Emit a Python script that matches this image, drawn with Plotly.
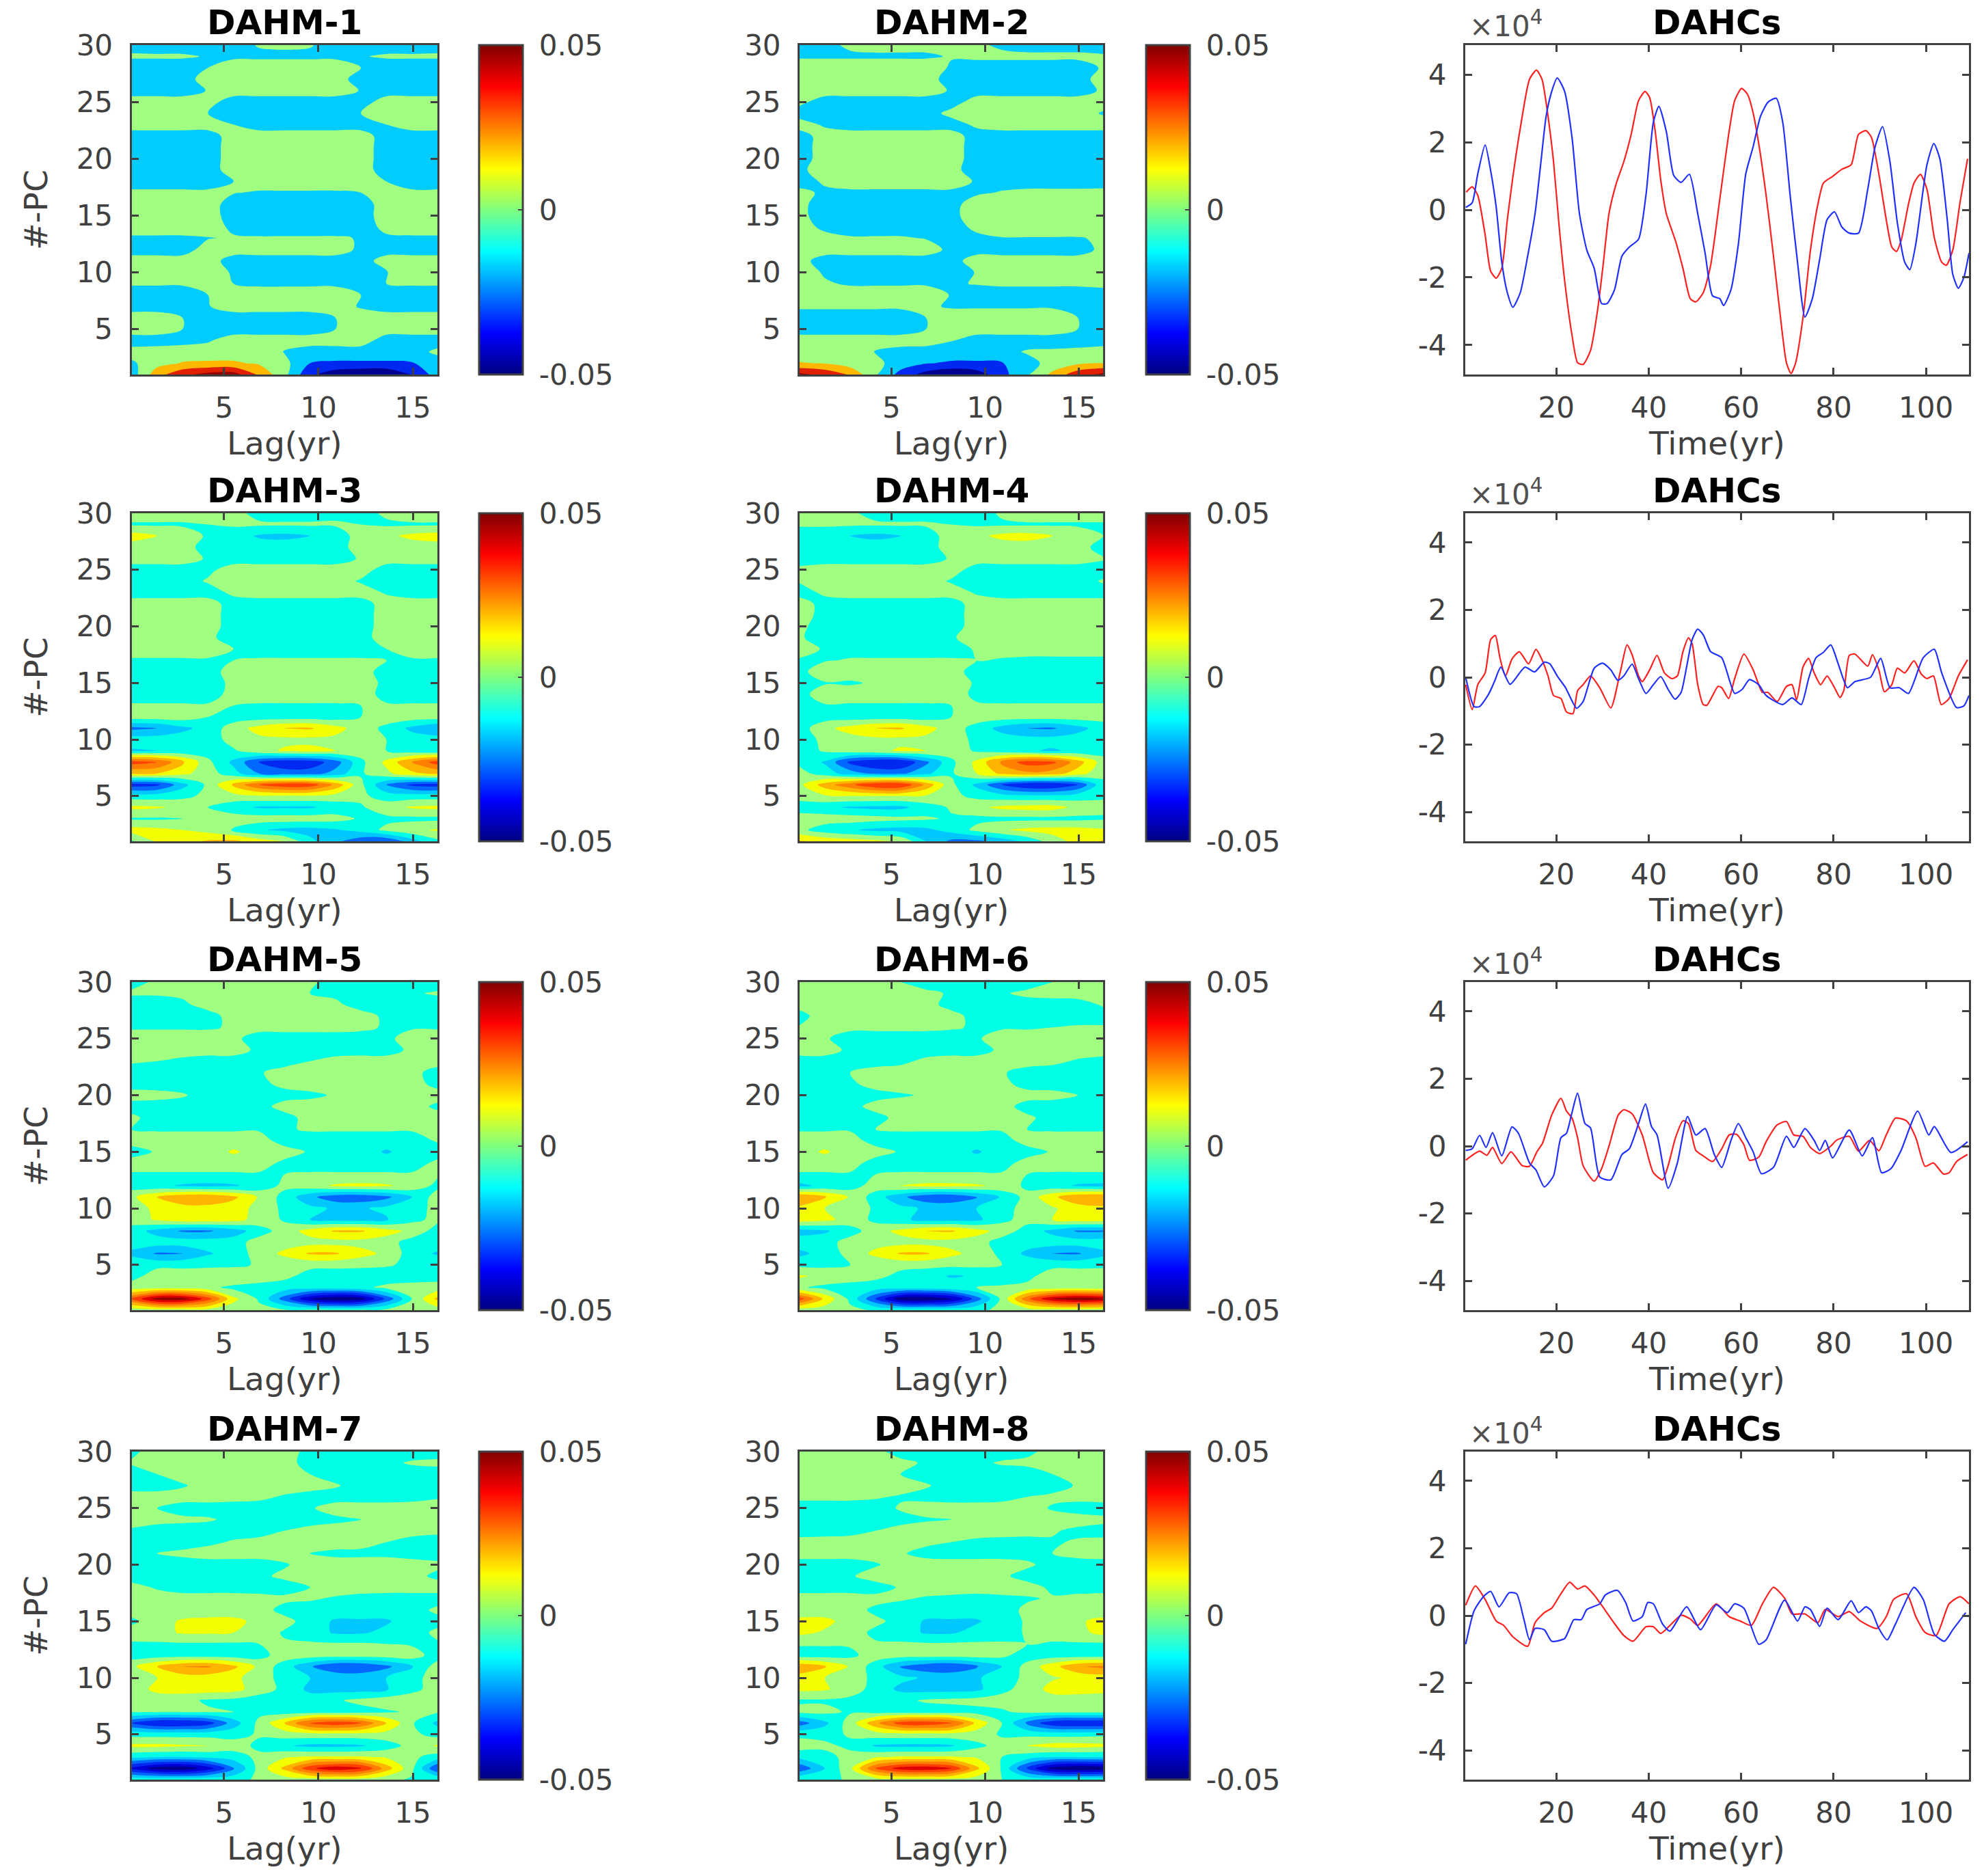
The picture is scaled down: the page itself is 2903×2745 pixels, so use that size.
#!/usr/bin/env python3
# DAHM / DAHC panels
import numpy as np
import plotly.graph_objects as go

# lag columns (yr) and PC rows
LAGS = [0.1, 1.45, 2.8, 4.15, 5.5, 6.85, 8.2, 9.55, 10.9, 12.25, 13.6, 14.95, 16.3]
PCS = list(range(30, 0, -1))

# DAHM maps, thousandths, one line per PC from 30 down to 1
DAHM_1 = [
    [-12,-14,-14,-14,-12,-6,-5,-6,-12,-14,-14,-14,-12],
    [-5,-5,-5,-8,-10,-10,-10,-10,-10,-8,-5,-5,-5],
    [-16,-16,-16,-7,2,2,2,2,2,-7,-16,-16,-16],
    [-16,-16,-16,2,2,2,2,2,2,-16,-16,-16,-16],
    [-16,-16,-16,-6,2,2,2,2,2,-8,-16,-16,-16],
    [2,2,2,0,-16,-16,-16,-16,-16,-16,2,2,2],
    [2,2,2,-7,-16,-16,-16,-16,-16,-7,2,2,2],
    [2,2,2,2,-7,-16,-16,-16,-16,-16,-7,2,2],
    [-16,-16,-16,-16,2,2,2,2,2,2,-16,-16,-16],
    [-16,-16,-16,-16,2,2,2,2,2,2,-16,-16,-16],
    [-16,-16,-16,-16,2,2,2,2,2,2,-16,-16,-16],
    [-16,-16,-16,-16,2,2,2,2,2,2,-16,-16,-16],
    [-16,-16,-16,-16,-7,2,2,2,2,2,-7,-16,-16],
    [-3,-3,-3,-3,-6,-9,-9,-9,-9,-7,-3,-3,-3],
    [2,2,2,2,-16,-16,-16,-16,-16,-16,2,2,2],
    [2,2,2,2,-16,-16,-16,-16,-16,-16,2,2,2],
    [2,2,2,2,-11,-16,-16,-16,-16,-16,-2,2,2],
    [-10,-10,-10,-8,-5,-5,-5,-5,-5,-8,-10,-10,-10],
    [-16,-16,-16,2,2,2,2,2,2,-11,-16,-16,-16],
    [2,2,2,2,-16,-16,-16,-16,-16,-16,2,2,2],
    [2,2,2,2,-9,-16,-16,-16,-16,-16,-8,2,2],
    [-5,-5,-5,-5,-7,-10,-10,-10,-10,-10,-7,-5,-5],
    [-16,-16,-16,-7,2,2,2,2,2,-7,-16,-16,-16],
    [-16,-16,-16,-8,2,2,2,2,2,-9,-16,-16,-16],
    [2,2,-7,-16,-16,-16,-16,-16,-7,2,2,2,2],
    [2,2,-7,-16,-16,-16,-16,-16,-7,2,2,2,2],
    [-16,-16,-13,-9,2,2,2,2,2,2,-16,-16,-16],
    [0,2,2,2,2,2,-8,-16,-16,-16,-16,-15,-3],
    [-10,4,11,12,12,8,-2,-24,-26,-26,-26,-25,-16],
    [-16,20,40,50,52,24,-2,-38,-52,-57,-57,-40,-16],
]
DAHM_2 = [
    [-14,-10,-5,-3,-3,-3,-3,-4,-10,-14,-14,-14,-14],
    [-9,-9,-9,-9,-9,-9,-6,-3,-3,-3,-3,-3,-5],
    [2,2,2,2,2,2,-9,-16,-16,-16,-16,-16,-5],
    [2,2,2,2,2,2,-16,-16,-16,-16,-16,-16,2],
    [2,2,2,2,2,2,-9,-16,-16,-16,-16,-16,-4],
    [-2,-16,-16,-16,-16,-16,-16,2,2,2,2,2,2],
    [-16,-16,-16,-16,-16,-16,-1,2,2,2,2,2,-9],
    [2,-10,-16,-16,-16,-16,-16,-3,2,2,2,2,2],
    [-16,2,2,2,2,2,2,-16,-16,-16,-16,-16,-16],
    [-16,2,2,2,2,2,2,-16,-16,-16,-16,-16,-16],
    [-16,2,2,2,2,2,2,-16,-16,-16,-16,-16,-16],
    [-11,2,2,2,2,2,-1,-16,-16,-16,-16,-16,-16],
    [-16,-4,2,2,2,2,2,-9,-16,-16,-16,-16,-16],
    [-1,-11,-11,-11,-11,-11,-11,-11,-5,-2,-2,-2,-1],
    [-2,-16,-16,-16,-16,-16,-16,6,2,2,2,2,2],
    [-2,-16,-16,-16,-16,-16,-14,6,2,2,2,2,2],
    [2,-12,-16,-16,-16,-16,-16,-2,2,2,2,2,2],
    [2,0,-5,-5,-5,-8,-16,-12,-8,-8,-8,-8,-5],
    [2,2,2,2,2,2,-12,-16,-16,-16,-16,-16,-2],
    [0,-16,-16,-16,-16,-16,-16,4,2,2,2,2,2],
    [2,-9,-16,-16,-16,-16,-16,-6,2,2,2,2,2],
    [-3,-5,-9,-9,-9,-9,-9,-6,-4,-4,-4,-4,-4],
    [2,2,2,2,2,2,-8,-16,-16,-16,-16,-16,-12],
    [-4,-4,-4,-4,-4,-4,-9,-9,-9,-9,-9,-9,-10],
    [-16,-16,-16,-16,-16,-7,2,2,2,2,2,-7,-16],
    [-16,-16,-16,-16,-16,-7,2,2,2,2,2,-7,-16],
    [2,2,2,2,2,2,-6,-16,-16,-16,-16,-16,-16],
    [2,2,2,-8,-14,-16,-16,-16,-14,-5,-4,-2,2],
    [11,9,1,-2,-16,-23,-26,-26,-25,-14,0,7,10],
    [48,40,25,-5,-30,-48,-57,-50,-30,-9,14,38,48],
]
DAHM_3 = [
    [0,0,0,0,-2,-6,-7,-7,-6,-6,-3,0,0],
    [-5,-5,-5,-4,-3,-3,-3,-3,-3,-4,-5,-5,-5],
    [8,4,0,-5,-8,-13,-14,-12,-9,0,2,6,8],
    [0,0,0,-8,-8,-8,-8,-8,-8,0,0,0,0],
    [0,0,0,-5,-8,-8,-8,-8,-8,-3,0,0,0],
    [-8,-8,-8,-6,0,0,0,0,0,0,-8,-8,-8],
    [-8,-8,-8,-3,0,0,0,0,0,-5,-8,-8,-8],
    [-8,-8,-8,-8,-2,0,0,0,0,0,-5,-8,-8],
    [0,0,0,0,-8,-8,-8,-8,-8,-8,0,0,0],
    [0,0,0,0,-8,-8,-8,-8,-8,-8,0,0,0],
    [0,0,0,0,-8,-8,-8,-8,-8,-8,0,0,0],
    [0,0,0,-2,-8,-8,-8,-8,-8,-8,1,0,0],
    [0,0,0,0,-4,-8,-8,-8,-8,-8,-4,0,0],
    [-5,-5,-5,-5,-4,-3,-3,-3,-3,-3,-4,-5,-5],
    [-8,-8,-8,-8,0,0,0,0,0,0,-8,-8,-8],
    [-8,-8,-8,-8,-2,0,0,0,0,0,-6,-8,-8],
    [-8,-8,-8,-8,-1,0,0,0,0,0,-7,-8,-8],
    [-3,-3,-3,-3,-4,-5,-5,-5,-5,-4,-3,-3,-3],
    [0,0,0,-4,-8,-8,-8,-8,-8,-4,0,0,0],
    [-22,-20,-14,-9,0,7,12,13,7,0,-6,-14,-20],
    [-8,-8,-8,-8,-1,2,2,2,2,0,-4,-8,-8],
    [-13,-12,-10,-8,-5,1,5,6,4,0,-4,-8,-11],
    [32,28,14,-2,-14,-28,-34,-33,-24,-6,6,20,32],
    [13,12,6,0,-9,-20,-24,-24,-17,-5,2,10,14],
    [-32,-30,-15,-2,14,28,34,33,18,-2,-20,-30,-32],
    [-8,-8,-6,-2,1,3,3,3,1,-2,-8,-8,-8],
    [6,5,2,-4,-9,-13,-13,-13,-9,-5,1,5,6],
    [-5,-5,-4,-2,0,0,0,0,-1,-5,-6,-6,-6],
    [7,6,4,1,-5,-11,-14,-15,-13,-9,-2,2,5],
    [-5,5,9,13,14,8,4,-10,-18,-26,-28,-16,-6],
]
DAHM_4 = [
    [0,0,-3,-6,-7,-7,-7,-7,-3,0,0,0,0],
    [-3,-3,-3,-3,-3,-3,-4,-5,-5,-5,-5,-5,-5],
    [-8,-8,-12,-14,-12,-8,0,2,6,7,4,0,-4],
    [-8,-8,-8,-8,-8,-8,0,0,0,0,0,0,-8],
    [-8,-8,-8,-8,-8,-8,-3,0,0,0,0,0,-3],
    [-2,0,0,0,0,0,0,-8,-8,-8,-8,-8,-8],
    [-3,0,0,0,0,0,-5,-8,-8,-8,-8,-8,-3],
    [-8,-2,0,0,0,0,0,-5,-8,-8,-8,-8,-8],
    [1,-8,-8,-8,-8,-8,-8,0,0,0,0,0,0],
    [1,-8,-8,-8,-8,-8,-8,0,0,0,0,0,0],
    [-2,-8,-8,-8,-8,-8,-8,0,0,0,0,0,0],
    [-3,-8,-8,-8,-8,-8,-5,0,0,0,0,0,0],
    [0,-5,-8,-8,-8,-8,-8,-3,0,0,0,0,0],
    [-5,-5,-3,-3,-3,-3,-3,-4,-5,-6,-6,-6,-6],
    [-8,4,0,0,0,0,0,-8,-8,-8,-8,-8,-8],
    [-8,-5,-5,-3,0,0,0,-5,-6,-8,-8,-8,-8],
    [-8,2,0,0,0,0,0,-6,-8,-8,-8,-8,-8],
    [-8,-5,-5,-5,-5,-5,-4,-3,-3,-3,-3,-3,-3],
    [-8,-8,-8,-8,-8,-8,-4,0,0,0,0,0,-1],
    [-8,2,7,12,13,7,0,-7,-15,-20,-21,-15,-8],
    [-8,-2,1,2,2,2,0,-6,-8,-9,-9,-8,-8],
    [-8,-3,0,2,5,4,0,-5,-8,-11,-13,-10,-8],
    [-6,-13,-30,-36,-36,-22,-6,6,22,32,30,16,0],
    [-1,-8,-16,-22,-22,-14,-5,4,14,18,16,8,-2],
    [2,16,26,36,36,18,-2,-14,-28,-36,-36,-28,-6],
    [-1,3,4,4,4,3,-2,-6,-9,-10,-10,-8,-5],
    [-8,-10,-13,-14,-14,-8,-3,2,6,7,7,2,-2],
    [0,0,0,-1,-2,-3,-5,-6,-6,-6,-6,-6,-5],
    [-2,-8,-11,-14,-15,-14,-9,-2,3,6,7,7,5],
    [13,10,8,6,3,-12,-22,-22,-17,-10,0,7,13],
]
DAHM_5 = [
    [-6,-3,0,0,0,0,0,-2,-8,-8,-8,-8,-8],
    [-3,-3,-2,-1,0,0,-3,-4,-6,-6,-6,-5,-3],
    [-8,-8,-6,0,0,0,0,0,-2,-8,-8,-8,-8],
    [-8,-8,-8,-8,0,0,0,0,0,0,-6,-8,-8],
    [-5,-5,-5,-5,-3,-1,-1,-1,-1,-2,-5,-5,-5],
    [0,0,0,0,-2,-8,-8,-8,-8,-8,-6,0,0],
    [0,0,0,0,0,-6,-8,-8,-8,-8,-8,-2,0],
    [-3,-4,-6,-8,-8,-8,-8,-4,-1,0,0,0,0],
    [-8,-8,-8,-8,-8,-5,0,0,0,0,0,-1,-8],
    [-8,-8,-8,-8,-8,-7,-1,0,0,0,0,0,-7],
    [0,-1,-3,-8,-8,-8,-8,-6,-3,0,0,0,0],
    [-8,-8,-8,-8,-8,-8,0,0,0,0,0,0,-6],
    [-2,-8,-8,-8,-8,-8,-8,0,0,0,0,0,0],
    [-4,-5,-5,-5,-5,-5,-5,-3,-3,-3,-3,-3,-3],
    [0,0,0,0,0,0,-8,-8,-8,-8,-8,-8,-3],
    [-8,-3,0,0,5,1,0,-5,-8,-8,-13,-8,-8],
    [0,0,0,0,0,0,-6,-8,-8,-8,-8,-8,-2],
    [-5,-5,-5,-5,-5,-5,-4,-3,-3,-3,-3,-3,-3],
    [-8,-10,-13,-14,-13,-9,-2,1,5,6,5,1,-6],
    [2,12,18,19,14,3,-7,-18,-25,-26,-22,-12,0],
    [0,6,9,9,7,2,-6,-10,-13,-13,-10,-7,-2],
    [0,5,9,9,7,1,-5,-12,-15,-15,-13,-6,-2],
    [-8,-15,-21,-21,-16,-8,0,7,13,13,7,2,-8],
    [-8,-8,-8,-8,-8,0,0,1,1,1,0,-8,-8],
    [-14,-21,-20,-13,-8,-1,6,13,13,7,2,-8,-13],
    [-6,-6,-6,-6,-6,-3,-2,-2,-2,-2,-3,-6,-6],
    [-7,0,0,2,4,2,-2,-7,-8,-9,-9,-8,-8],
    [0,0,0,-2,-6,-8,-8,-8,-8,-6,-2,-1,0],
    [28,48,48,32,6,-5,-24,-44,-52,-48,-26,-4,14],
    [-1,1,1,1,0,-2,-3,-3,-3,-3,-2,-1,0],
]
DAHM_6 = [
    [0,0,0,0,-4,-8,-8,-8,-8,-8,-4,0,0],
    [0,0,-1,-2,-1,-2,-5,-7,-5,-2,-1,0,0],
    [0,0,0,0,0,0,-8,-8,-8,-8,-8,-8,-3],
    [-8,2,0,0,0,0,0,-8,-8,-8,-8,-8,-8],
    [-3,-2,-2,-2,-2,-2,-3,-5,-5,-5,-4,-3,-3],
    [0,-3,-8,-8,-8,-8,-8,-5,0,0,0,0,0],
    [0,0,-6,-8,-8,-8,-8,-8,-2,0,0,0,0],
    [-8,-8,-8,-8,-6,-2,0,0,0,0,-2,-5,-7],
    [-8,-8,-4,0,0,0,0,0,-3,-8,-8,-8,-8],
    [-8,-8,-6,0,0,0,0,0,-1,-8,-8,-8,-8],
    [-8,-8,-8,-8,-5,-3,0,0,0,0,-1,-4,-8],
    [-8,-8,-8,0,0,0,0,0,0,-8,-8,-8,-8],
    [-8,-8,-8,-8,0,0,0,0,0,-2,-8,-8,-8],
    [-5,-5,-5,-4,-3,-3,-3,-3,-3,-4,-5,-5,-5],
    [0,0,0,-8,-8,-8,-8,-8,-8,0,0,0,0],
    [1,5,0,0,-5,-8,-8,-13,-8,-8,-3,0,0],
    [0,0,0,-8,-8,-8,-8,-8,-8,0,0,0,0],
    [-5,-5,-5,-4,-3,-3,-3,-3,-3,-4,-5,-5,-5],
    [-14,-10,-8,0,4,6,6,5,2,-6,-9,-13,-14],
    [20,13,3,-8,-18,-26,-27,-21,-11,-1,10,19,20],
    [10,4,0,-5,-10,-13,-13,-12,-7,-1,3,8,10],
    [8,6,1,-6,-10,-15,-15,-14,-6,-1,4,8,8],
    [-15,-13,-8,1,6,12,13,7,1,-8,-14,-21,-21],
    [-8,-8,0,1,1,1,1,0,-8,-8,-8,-8,-8],
    [-14,-9,-1,6,13,13,6,1,-6,-14,-20,-21,-14],
    [-6,-6,-4,-2,-2,-2,-2,-2,-4,-6,-6,-6,-6],
    [5,2,1,-2,-6,-8,-13,-11,-8,-6,0,0,1],
    [-3,-6,-8,-8,-8,-8,-6,-4,-3,-2,-1,-1,-1],
    [32,10,-6,-28,-50,-52,-46,-24,-2,26,44,50,46],
    [-1,0,-2,-5,-5,-5,-5,-5,-3,0,0,0,0],
]
DAHM_7 = [
    [-6,0,0,0,0,0,-1,-6,-8,-8,-8,-8,-8],
    [-3,-1,0,0,-2,-2,-3,-5,-7,-7,-6,-3,-2],
    [-8,-4,0,0,0,0,0,-4,-8,-8,-8,-8,-8],
    [-8,-8,-5,0,0,0,0,0,-3,-8,-8,-8,-8],
    [0,0,0,0,-1,-2,-5,-8,-8,-8,-8,-7,-5],
    [0,-4,-8,-8,-8,-8,-8,-5,0,0,0,0,0],
    [-1,-1,-2,-3,-6,-8,-8,-8,-6,-4,-1,0,0],
    [-5,-8,-8,-8,-8,-8,-4,-1,0,0,0,0,-2],
    [-8,-8,-8,-6,-3,-1,0,0,0,-1,-4,-8,-8],
    [-8,-4,-2,0,0,0,0,-4,-6,-6,-6,-8,-8],
    [-8,-8,-8,-8,-8,-8,-5,0,0,0,0,0,-2],
    [-8,-8,-8,-8,-8,-6,-2,0,0,0,0,-1,-6],
    [-1,-5,-8,-8,-8,-8,-8,-4,0,0,0,0,0],
    [0,0,0,0,0,-1,-2,-3,-5,-7,-8,-8,-8],
    [0,0,0,0,0,0,-7,-8,-8,-8,-8,-8,-2],
    [-6,1,5,6,6,2,-1,-8,-13,-13,-13,-8,-7],
    [0,1,5,5,4,1,-5,-8,-13,-13,-10,-8,-2],
    [-5,-5,-5,-5,-5,-4,-3,-3,-3,-3,-4,-5,-5],
    [-8,-8,-8,-8,-8,-7,0,0,0,0,0,0,-8],
    [2,12,20,21,14,2,-8,-19,-28,-28,-22,-13,0],
    [0,4,8,8,6,0,-7,-12,-13,-14,-12,-7,0],
    [0,6,8,8,7,0,-6,-14,-15,-15,-13,-6,-1],
    [0,0,-2,-5,-6,-8,-8,-8,-5,-2,0,0,-1],
    [-3,-3,-3,-3,-4,-6,-8,-8,-8,-7,-5,-3,-3],
    [-28,-36,-36,-32,-16,-2,12,30,34,28,12,-3,-14],
    [-7,-7,-7,-7,-7,-3,0,1,1,1,1,-2,-7],
    [6,6,5,4,0,-6,-11,-14,-14,-13,-8,-1,5],
    [-10,-12,-12,-10,-8,-2,3,5,5,5,3,-2,-8],
    [-38,-48,-50,-40,-22,-1,14,34,42,38,16,-2,-28],
    [-6,-6,-6,-6,-6,-3,0,0,1,0,-2,-5,-5],
]
DAHM_8 = [
    [0,0,0,-2,-7,-8,-8,-8,-8,-6,-1,0,0],
    [0,-2,-2,-1,-2,-5,-7,-6,-3,-2,-1,-1,0],
    [0,0,0,0,-4,-8,-8,-8,-8,-8,-4,0,0],
    [0,0,0,0,0,-3,-8,-8,-8,-8,-8,-3,0],
    [-2,-2,-2,-3,-5,-7,-8,-8,-7,-4,-2,-1,0],
    [-8,-8,-8,-8,-3,0,0,0,0,0,-5,-8,-8],
    [-8,-8,-8,-8,-7,-5,-4,0,0,0,0,0,-2],
    [-8,-8,-7,-4,-1,0,0,0,0,-1,-3,-6,-7],
    [-1,0,0,0,0,-2,-4,-6,-7,-7,-5,-3,-2],
    [0,0,0,0,-3,-7,-8,-8,-8,-8,-4,-1,0],
    [-8,-8,-8,-5,0,0,0,0,0,-2,-8,-8,-8],
    [-8,-8,-5,0,0,0,0,0,-2,-8,-8,-8,-8],
    [-8,-8,-8,-8,-3,0,0,0,0,0,-6,-8,-8],
    [0,0,0,-1,-3,-5,-6,-7,-6,-5,-3,-1,0],
    [0,0,0,-6,-8,-8,-8,-8,-8,-2,0,0,0],
    [6,6,1,-2,-7,-13,-13,-13,-8,-3,0,3,6],
    [6,3,0,-6,-8,-13,-13,-9,-8,-3,0,2,6],
    [-3,-3,-3,-3,-3,-3,-3,-3,-3,-4,-5,-5,-5],
    [-8,-8,-6,0,0,0,0,0,-2,-8,-8,-8,-8],
    [19,13,3,-8,-21,-26,-28,-21,-12,-1,9,19,22],
    [8,4,0,-6,-10,-13,-13,-13,-8,-2,3,6,8],
    [6,5,0,-7,-14,-15,-15,-14,-6,-1,7,8,8],
    [-5,-5,-6,-7,-6,-3,-2,-1,-1,0,0,-1,-3],
    [-2,-2,-5,-7,-8,-8,-8,-7,-5,-2,-2,-2,-2],
    [-24,-14,0,18,32,34,30,10,-4,-22,-34,-36,-36],
    [-6,-7,-3,0,1,1,1,0,-5,-6,-7,-7,-6],
    [0,-2,-6,-13,-14,-14,-13,-6,-1,4,7,7,6],
    [-10,-7,-1,3,5,5,5,3,-4,-8,-12,-12,-12],
    [-26,-12,2,28,40,42,36,14,-5,-30,-48,-52,-50],
    [-5,-6,-3,0,1,1,1,0,-4,-6,-6,-6,-6],
]

# DAHC time series, x 10^4
T1_RED = [0.5,1.8,3,4.6,5.8,7,8.2,9.4,10.6,12.2,14.2,15.7,16.9,18.2,19.4,20.6,21.8,23.4,24.6,25.8,27.4,29,30.2,31.4,33,34.6,36.2,37.8,39.2,40.2,41.4,42.6,43.8,45.8,47.4,49,50.2,51.8,53.4,55.4,57.4,58.6,60.1,61.4,62.6,63.8,65.4,67,68.2,69.8,70.8,71.8,73.4,75,76.6,77.8,79.8,81.8,83.8,85.4,87,88.2,89.8,91.4,92.6,93.6,94.6,96.2,97.4,98.8,100.2,101.8,103.4,104.4,105.8,107.4,109]
V1_RED = [.52,.68,.43,-.74,-1.82,-2.02,-1.73,-.29,.97,2.41,3.86,4.13,3.86,2.77,1.42,-.47,-2.09,-3.71,-4.52,-4.57,-4.16,-2.9,-1.55,-.11,.79,1.42,2.23,3.23,3.5,3.32,2.32,.88,-.11,-.92,-1.73,-2.63,-2.72,-2.45,-1.64,.34,2.32,3.23,3.59,3.41,2.86,1.96,.43,-1.37,-2.81,-4.52,-4.84,-4.52,-3.17,-1.19,.16,.79,.99,1.2,1.33,2.23,2.34,2.14,1.06,-.29,-1.1,-1.23,-.92,.16,.79,1.05,.61,-.83,-1.55,-1.64,-1.19,.25,1.51]
T1_BLUE = [.4,1.8,3,4.6,5.8,7,8.2,9.4,10.6,12.2,13.8,15.4,16.6,17.8,19,20.2,21.8,23.4,25,26.6,28.2,29.8,31,32.6,34.2,35.8,37.8,39.4,41,42.2,43.8,45.4,47,48.8,50.6,52.2,53.8,55.4,56.2,57.8,59.4,61,62.6,64.2,65.8,67.6,69,70.6,72.2,73.8,75.4,77,78.6,80.2,81.8,83.4,85.4,87.4,89,90.6,92.2,93.8,95.4,96.5,97.8,100.2,101.7,103,104.6,105.8,107,108.2,109.3]
V1_BLUE = [.07,.21,1.06,1.92,1.15,.07,-1.55,-2.45,-2.88,-2.45,-1.37,-.11,1.33,2.77,3.5,3.9,3.5,2.14,-.11,-1.19,-1.73,-2.77,-2.77,-2.36,-1.37,-1.1,-.87,.43,2.59,3.06,2.32,1.02,.81,1.05,-.11,-1.28,-2.54,-2.63,-2.83,-2.36,-1.01,1.06,1.87,2.77,3.18,3.3,2.59,.43,-1.55,-3.17,-2.63,-1.46,-.29,-.06,-.51,-.69,-.69,.61,1.87,2.46,1.42,-.38,-1.55,-1.77,-1.01,1.33,1.96,1.51,-.29,-1.91,-2.32,-2,-1.28]

T2_RED = [.4,1.8,3,4.6,5.8,6.8,7.8,9,10.4,12,14,15.6,17,18.2,19.4,21,22.2,23.6,24.6,25.8,27.4,29.4,31.8,33.8,35.3,36.4,37.8,38.6,40.2,41.8,43.4,45,46.2,47.4,48.6,49.4,50.6,51.8,52.6,55,55.8,57.3,58.6,60.6,62.6,64.6,65.8,67.8,69.8,71,72,73.4,74.6,75.8,77.2,78.6,80.2,81.4,82.2,83.4,84.6,87.4,88.4,89.8,91,92.6,93.8,95.4,97.4,99,100.2,101.6,103.3,105,107,109]
V2_RED = [-.22,-.96,-.22,.13,1.12,1.24,.58,.04,.54,.76,.4,.83,.49,.04,-.54,-.63,-1.03,-1.08,-.4,-.22,.04,-.31,-.91,.13,.96,.67,.04,-.13,.22,.65,.13,-.04,.04,.76,1.17,.99,-.22,-.81,-.83,-.27,-.31,-.63,-.04,.69,.22,-.45,-.45,-.72,-.27,-.22,-.67,.31,.56,.13,-.22,.04,-.31,-.6,-.4,.65,.69,.33,.67,.22,-.43,-.22,.27,.13,.49,.09,-.04,.04,-.81,-.63,.04,.52]
T2_BLUE = [.4,2.2,3.4,5.4,6.6,8,10,13.2,15.3,17.4,18.6,20.2,22,24.4,25.8,28.2,30,31.8,33.3,34.6,36.4,37.8,39.4,41,42.6,44.2,45.7,47,48.2,49.4,50.6,51.8,53.4,55.8,58.6,60.2,61.8,63.8,65.4,69,71,73,74.6,76.2,77.8,79.4,81,83,84.6,88,90.2,92.2,94.2,96.2,99.4,101.8,103.4,106.6,108.2,109.3]
V2_BLUE = [0,-.87,-.87,-.49,-.13,.3,-.21,.3,.16,.45,.4,.04,-.31,-.92,-.72,.27,.42,.22,-.09,.04,.39,-.04,-.48,-.22,.02,-.36,-.65,-.45,.31,1.12,1.43,1.26,.76,.58,-.48,-.36,-.07,-.22,-.54,-.81,-.61,-.81,-.04,.58,.74,.96,.4,-.31,-.13,0,.56,-.31,-.31,-.48,.58,.83,.13,-.9,-.85,-.54]

T3_RED = [.4,3.4,5,6.2,8.2,10.2,12.6,14.2,15.8,17,19,21,22.2,23.4,24.6,25.8,28.2,29.8,31.4,33.4,34.6,36.4,38.6,41,43,44.2,45.8,47.4,48.6,50.2,51.8,53.8,55.8,57.4,59,60.6,61.8,63.8,65.4,67.8,69.8,71.4,73.4,75,77,79.4,80.6,83.4,85.4,87.8,89.8,91.4,93.4,95.8,97.8,99.8,101.6,103.8,105,106.6,109]
V3_RED = [-.42,-.15,-.27,-.04,-.52,-.17,-.58,-.6,-.17,.08,.92,1.42,1.04,.83,.25,-.58,-1.04,-.67,0,.92,1.08,.96,.33,-.79,-1,-.58,.25,.75,.67,-.13,-.29,-.46,-.08,.33,.35,.04,-.42,-.33,.13,.63,.73,.33,.29,-.04,-.22,0,.17,.29,-.15,.17,-.14,.33,.83,.75,.25,-.6,-.5,-.83,-.79,-.46,-.25]
T3_BLUE = [.4,1.8,3.4,4.8,6.2,8.2,10.4,11.8,14.2,15.6,17.4,19.4,21,22.2,23.4,24.6,26.2,27.4,29.4,31.8,34.2,35.8,37.8,39.3,40.6,41.8,44.2,46.2,48.4,50.2,52.2,54.2,55.8,57.8,59.4,61,62.6,64.4,67,69.8,71.4,73.8,75.8,77,78.2,79.8,83.4,86.2,88.4,90.4,92.4,94.6,98.2,100.6,101.8,105.4,109]
V3_BLUE = [-.13,-.08,.32,-.04,.4,-.29,.57,.38,-.5,-.71,-1.21,-.88,.25,.38,1,1.57,.67,.54,-.92,-1,-.25,-.08,.67,1.25,.58,.33,-1.25,-.5,.88,.33,.52,-.25,-.63,.17,.67,.25,-.17,-.82,-.63,.29,-.04,.52,.17,-.13,.17,-.35,.48,-.29,.25,-.79,-.67,-.13,1.04,.33,.58,-.19,.13]

T4_RED = [.4,2.5,4.6,7,8.6,10.6,13.8,15.4,17.4,19,21,22.9,24.6,26.2,28.2,29.8,32.2,34.6,36.6,39.4,41,42.6,44.6,47,49,50.6,54.6,57.4,59.8,62.2,64.6,67,69.4,71,73.8,76.6,78.2,81,83.4,85.8,89.4,91.4,93,95.8,97.8,99.8,102.2,105,107.4,109.3]
V4_RED = [.31,.88,.48,-.16,-.29,-.63,-.91,-.21,.09,.22,.65,.99,.79,.88,.61,.31,-.16,-.59,-.76,-.33,-.33,-.53,-.29,.01,-.1,-.29,.35,-.03,-.16,-.29,.35,.84,.52,.05,.05,-.21,.18,-.03,.12,-.16,-.38,-.03,.48,.65,-.03,-.5,-.59,.35,.56,.35]
T4_BLUE = [.4,2.2,4.2,5.8,7.6,9.8,11.4,13,14.2,15.4,17.4,19,21.8,23.8,25.4,26.6,29.4,30.6,33.2,35,36.6,38.6,39.8,41,43,44.6,48.2,51.2,54.6,57,58.6,60.6,63.8,65.4,69.4,72.2,73.8,75,77,78.6,81,83.8,85.4,87,88.2,89.8,91.6,93.4,97.4,99.4,101.8,104,105.8,108.6]
V4_BLUE = [-.85,.14,.56,.72,.26,.68,.65,-.12,-.72,-.38,-.42,-.76,-.68,-.12,-.12,.18,.35,.61,.75,.39,-.16,-.03,.39,.35,-.25,-.46,.26,-.42,.32,.09,.35,.22,-.85,-.72,.46,-.16,.26,.18,-.32,.22,-.12,.44,.09,.26,.14,-.38,-.72,-.25,.84,.48,-.55,-.76,-.42,.09]

GRIDS = [DAHM_1, DAHM_2, DAHM_3, DAHM_4, DAHM_5, DAHM_6, DAHM_7, DAHM_8]
SERIES = [
    (T1_RED, V1_RED, T1_BLUE, V1_BLUE),
    (T2_RED, V2_RED, T2_BLUE, V2_BLUE),
    (T3_RED, V3_RED, T3_BLUE, V3_BLUE),
    (T4_RED, V4_RED, T4_BLUE, V4_BLUE),
]

# panels 1 and 2 were drawn with coarser contour steps than the others
COARSE_START, COARSE_END, COARSE_SIZE = -41, 61, 17
FINE_START, FINE_END, FINE_SIZE = -44, 52, 8
# colour of each band as seen in the picture, lowest band first
COARSE_BANDS = ["#000090", "#0028f0", "#00ccff", "#a0ff80", "#ffb800", "#e02000", "#900000"]
FINE_BANDS = ["#000090", "#0000d8", "#0028f0", "#0068ff", "#00c8ff", "#00ffe5", "#a0ff80",
              "#f3ff00", "#ffb400", "#ff8000", "#ff4000", "#e00000", "#900000"]

JET = [[0, "#000080"], [0.125, "#0000ff"], [0.375, "#00ffff"],
       [0.625, "#ffff00"], [0.875, "#ff0000"], [1, "#800000"]]
INK = "#404040"
FONT = "DejaVu Sans"
W, H = 2903, 2745

# pixel boxes
ROW_TOPS = [66, 751, 1437, 2124]
ROW_BOTS = [548, 1231, 1917, 2604]
MAP_COLS = [(192.5, 640), (1170, 1614)]
BAR_LEFTS = [701, 1677]
BAR_W = 64
LINE_COL = (2144, 2881)

fig = go.Figure()
tick_font = dict(family=FONT, size=42, color=INK)
label_font = dict(family=FONT, size=47, color=INK)
title_font = dict(family=FONT, size=50, color="#000000")


def band_scale(colors):
    # plotly paints a band with the colour found at its mid value; the first band lies below start
    n = len(colors) - 1
    scale = [[0, colors[0]]]
    scale += [[(j - 0.5) / n, colors[j]] for j in range(1, n + 1)]
    scale.append([1, colors[-1]])
    return scale


def add_axes(k, x0, x1, top, bot, xrange_, yrange_, xticks, yticks, xtitle, ytitle):
    common = dict(showline=True, linecolor=INK, linewidth=3, mirror="ticks", ticks="inside",
                  ticklen=10, tickwidth=3, tickcolor=INK, tickfont=tick_font, showgrid=False,
                  zeroline=False)
    xname, yname = ("xaxis", "yaxis") if k == 1 else (f"xaxis{k}", f"yaxis{k}")
    xa = f"x{k}" if k > 1 else "x"
    ya = f"y{k}" if k > 1 else "y"
    yaxis = dict(domain=[1 - bot / H, 1 - top / H], range=yrange_, anchor=xa, tickmode="array",
                 tickvals=yticks, ticktext=[str(v) for v in yticks], ticklabelstandoff=16, **common)
    if ytitle:
        yaxis["title"] = dict(text=ytitle, font=label_font, standoff=28)
    fig.update_layout(**{
        xname: dict(domain=[x0 / W, x1 / W], range=xrange_, anchor=ya, tickmode="array",
                    tickvals=xticks, ticktext=[str(v) for v in xticks], ticklabelstandoff=10,
                    title=dict(text=xtitle, font=label_font, standoff=8), **common),
        yname: yaxis,
    })
    return xa, ya


k = 0
for i, grid in enumerate(GRIDS):
    row, col = i // 2, i % 2
    k += 1
    x0, x1 = MAP_COLS[col]
    top, bot = ROW_TOPS[row], ROW_BOTS[row]
    xa, ya = add_axes(k, x0, x1, top, bot, [0.1, 16.3], [1, 30], [5, 10, 15],
                      [5, 10, 15, 20, 25, 30], "Lag(yr)", "#-PC" if col == 0 else "")
    z = np.array(grid, dtype=float)[::-1]
    pcs = PCS[::-1]
    # the heatmap sits under the contour fill and only brings the colour bar
    fig.add_trace(go.Heatmap(
        x=LAGS, y=pcs, z=z, xaxis=xa, yaxis=ya, colorscale=JET, zmin=-50, zmax=50,
        colorbar=dict(x=BAR_LEFTS[col] / W, xanchor="left", xpad=0, y=1 - (top + bot) / 2 / H,
                      yanchor="middle", ypad=0, len=bot - top, lenmode="pixels",
                      thickness=BAR_W, thicknessmode="pixels", outlinecolor=INK, outlinewidth=3,
                      tickmode="array", tickvals=[-50, 0, 50],
                      ticktext=["\u00a0-0.05", "\u00a00", "\u00a00.05"],
                      ticks="inside", ticklen=8, tickwidth=2, tickcolor=INK, tickfont=tick_font),
    ))
    if i < 2:
        start, end, size, bands = COARSE_START, COARSE_END, COARSE_SIZE, COARSE_BANDS
    else:
        start, end, size, bands = FINE_START, FINE_END, FINE_SIZE, FINE_BANDS
    fig.add_trace(go.Contour(
        x=LAGS, y=pcs, z=z, xaxis=xa, yaxis=ya, colorscale=band_scale(bands), zmin=start, zmax=end,
        autocontour=False, showscale=False, line=dict(width=0, smoothing=1),
        contours=dict(coloring="fill", showlines=False, start=start, end=end, size=size),
    ))
    fig.add_annotation(xref="paper", yref="paper", x=(x0 + x1) / 2 / W, y=1 - (top - 33) / H,
                       text=f"<b>DAHM-{i + 1}</b>", showarrow=False, font=title_font,
                       xanchor="center", yanchor="middle")

for row, (t_r, v_r, t_b, v_b) in enumerate(SERIES):
    k += 1
    top, bot = ROW_TOPS[row], ROW_BOTS[row]
    xa, ya = add_axes(k, LINE_COL[0], LINE_COL[1], top, bot, [0.3, 109.3], [-4.87, 4.87],
                      [20, 40, 60, 80, 100], [-4, -2, 0, 2, 4], "Time(yr)", "")
    fig.add_trace(go.Scatter(x=t_r, y=v_r, mode="lines", xaxis=xa, yaxis=ya,
                             line=dict(color="#ff2020", width=2.2, shape="spline", smoothing=0.6)))
    fig.add_trace(go.Scatter(x=t_b, y=v_b, mode="lines", xaxis=xa, yaxis=ya,
                             line=dict(color="#2030ff", width=2.2, shape="spline", smoothing=0.6)))
    fig.add_annotation(xref="paper", yref="paper", x=(LINE_COL[0] + LINE_COL[1]) / 2 / W,
                       y=1 - (top - 33) / H, text="<b>DAHCs</b>", showarrow=False,
                       font=title_font, xanchor="center", yanchor="middle")
    fig.add_annotation(xref="paper", yref="paper", x=2148 / W, y=1 - (top - 30) / H,
                       text="×10<sup>4</sup>", showarrow=False, xanchor="left", yanchor="middle",
                       font=dict(family=FONT, size=42, color="#505050"))

fig.update_layout(width=W, height=H, margin=dict(l=0, r=0, t=0, b=0, autoexpand=False),
                  showlegend=False, paper_bgcolor="#ffffff", plot_bgcolor="#ffffff",
                  font=dict(family=FONT))
fig.write_html("out.html", post_script="document.body.style.margin='0';",
               config={"displayModeBar": False})
